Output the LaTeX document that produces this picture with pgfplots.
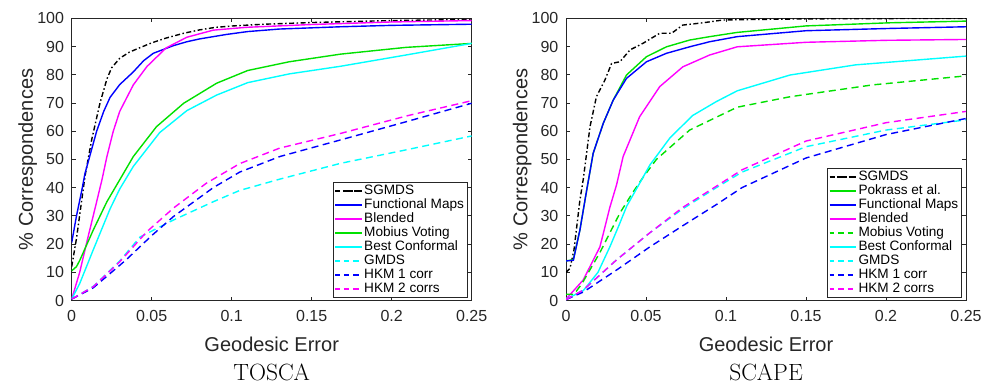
\documentclass[border=0pt]{standalone}
\usepackage{pgfplots}
\pgfplotsset{compat=1.18}
\usepackage{fontspec}
\setsansfont{Liberation Sans}
\renewcommand{\familydefault}{\sfdefault}
\definecolor{axgray}{RGB}{38,38,38}
\definecolor{mgreen}{RGB}{0,225,0}
\definecolor{mblue}{RGB}{0,0,255}
\definecolor{mmag}{RGB}{255,0,255}
\definecolor{mcyan}{RGB}{0,255,255}

\pgfplotsset{
  chart/.style={
    scale only axis, width=400pt, height=282.2pt,
    xmin=0, xmax=0.25, ymin=0, ymax=100,
    xtick={0,0.05,0.1,0.15,0.2,0.25},
    xticklabels={0,0.05,0.1,0.15,0.2,0.25},
    ytick={0,10,...,100},
    tick align=inside, major tick length=4pt,
    axis line style={axgray, line width=0.8pt},
    every tick/.style={axgray, line width=0.8pt},
    tick label style={font=\fontsize{16}{16}\selectfont, text=axgray, inner sep=0pt},
    /pgf/number format/assume math mode=true,
    xticklabel style={anchor=base, yshift=-21.2pt},
    yticklabel style={anchor=east, xshift=-7.5pt},
    every axis x label/.style={at={(axis description cs:0.5,0)}, yshift=-51.2pt, anchor=base, font=\fontsize{20}{20}\selectfont, text=axgray},
    every axis y label/.style={at={(axis description cs:0,0.5)}, xshift=-38.7pt, anchor=base, rotate=90, font=\fontsize{20}{20}\selectfont, text=axgray},
    xlabel={Geodesic Error}, ylabel={\% Correspondences},
    title style={at={(axis description cs:0.5,0)}, anchor=base, yshift=-86.2pt, font=\rmfamily\fontsize{23.5}{24}\selectfont},
    legend style={at={(axis description cs:1,0)}, anchor=south east, xshift=-4.5pt, yshift=2.9pt,
      draw=axgray, fill=white, inner sep=1.5pt,
      font=\fontsize{13.6}{13.6}\selectfont, row sep=0pt,
      nodes={inner xsep=1.5pt, inner ysep=0pt, text height=10.2pt, text depth=3.8pt}},
    legend cell align=left,
    legend image code/.code={\path (0pt,0pt) -- (26.5pt,0pt); \draw[##1, line width=1.8pt] (8.5pt,0pt) -- (26.5pt,0pt);},
  },
  ln/.style={line width=1.4pt},
  dd/.style={line width=1.4pt, dash pattern=on 5pt off 2.5pt on 1.5pt off 2.5pt},
  ds/.style={line width=1.4pt, dash pattern=on 7pt off 4.5pt, legend image post style={dash pattern=on 4.5pt off 5pt}},
}

\begin{document}
\begin{tikzpicture}
\useasboundingbox (-71.7pt,-90.5pt) rectangle (913.3pt,300.5pt);
% ---------------- TOSCA
\begin{axis}[chart, at={(0pt,0pt)}, anchor=south west, title={TOSCA}]
\addplot[dd, black] coordinates {(0,12) (0.003,22) (0.0083,44) (0.0125,57) (0.0177,70) (0.022,78.5) (0.025,82.5) (0.030,85.8) (0.036,88) (0.0427,89.6) (0.05,91.3) (0.059,93) (0.07,94.7) (0.080,95.9) (0.09,96.8) (0.101,97.3) (0.12,97.9) (0.15,98.5) (0.2,99.2) (0.25,99.6)};
\addlegendentry{SGMDS}
\addplot[ln, mblue] coordinates {(0,20.5) (0.003,30) (0.0063,39) (0.0083,45) (0.0156,60) (0.02,67) (0.024,72) (0.03,76.5) (0.0385,81) (0.045,85) (0.051,87.6) (0.0635,90.3) (0.072,91.7) (0.08,92.7) (0.097,94.3) (0.11,95.3) (0.13,96.2) (0.168,97) (0.2,97.5) (0.25,97.9)};
\addlegendentry{Functional Maps}
\addplot[ln, mmag] coordinates {(0,0.5) (0.005,10) (0.01,22) (0.0156,35) (0.019,43) (0.022,51) (0.026,60) (0.030,67) (0.0385,76.4) (0.047,82.9) (0.059,89.5) (0.072,93.3) (0.0885,95.8) (0.109,96.8) (0.15,97.8) (0.2,98.7) (0.25,99.2)};
\addlegendentry{Blended}
\addplot[ln, mgreen] coordinates {(0,10.5) (0.003,12) (0.0052,14.4) (0.008,18) (0.0135,25) (0.022,35) (0.0385,51) (0.053,61.6) (0.07,69.9) (0.0906,77) (0.11,81.5) (0.136,84.6) (0.168,87.3) (0.209,89.7) (0.25,91.1)};
\addlegendentry{Mobius Voting}
\addplot[ln, mcyan] coordinates {(0,0.5) (0.005,6) (0.0135,18) (0.024,32.5) (0.030,39.5) (0.0385,47.5) (0.055,59.5) (0.072,67.3) (0.0906,72.8) (0.11,77.2) (0.136,80.3) (0.168,83) (0.209,87) (0.25,91.1)};
\addlegendentry{Best Conformal}
\addplot[ds, mcyan] coordinates {(0,0.5) (0.0135,5) (0.03,14) (0.0427,22.5) (0.0635,28.5) (0.0885,35) (0.105,39) (0.13,43) (0.168,48.6) (0.21,53.5) (0.25,58.3)};
\addlegendentry{GMDS}
\addplot[ds, mblue] coordinates {(0,0.5) (0.0135,4.5) (0.034,14.4) (0.05,23) (0.0635,29.7) (0.0885,40) (0.105,45.5) (0.13,51) (0.168,56.9) (0.21,63.5) (0.25,69.9)};
\addlegendentry{HKM 1 corr}
\addplot[ds, mmag] coordinates {(0,0.5) (0.0135,4.9) (0.030,13.7) (0.047,24.4) (0.0635,32.7) (0.084,41.5) (0.105,48.5) (0.13,54) (0.168,59.2) (0.21,65.5) (0.25,70.8)};
\addlegendentry{HKM 2 corrs}
\end{axis}
% ---------------- SCAPE
\begin{axis}[chart, at={(494.3pt,0pt)}, anchor=south west, title={SCAPE}]
\addplot[dd, black] coordinates {(0,10) (0.0025,11.4) (0.005,18) (0.0087,35.6) (0.0108,43) (0.015,61.6) (0.019,72.2) (0.0243,78.1) (0.0285,84) (0.0337,84.6) (0.040,88.8) (0.048,91.1) (0.0586,94.7) (0.066,94.7) (0.073,97.6) (0.0856,98.4) (0.098,99.4) (0.12,99.6) (0.15,99.8) (0.2,99.9) (0.25,100)};
\addlegendentry{SGMDS}
\addplot[ln, mgreen] coordinates {(0,14) (0.0046,14.5) (0.0087,25) (0.0129,39) (0.017,52.2) (0.0233,62.8) (0.0295,71) (0.0378,79.9) (0.0503,86.4) (0.0628,89.9) (0.0773,92.3) (0.0898,93.5) (0.107,95) (0.15,97.3) (0.202,98.4) (0.25,99)};
\addlegendentry{Pokrass et al.}
\addplot[ln, mblue] coordinates {(0,14) (0.0046,14.3) (0.0087,25) (0.0129,39) (0.017,52.2) (0.0233,62.8) (0.0295,71) (0.0378,78.7) (0.0503,84.6) (0.0628,87.6) (0.0773,89.9) (0.0898,91.7) (0.107,93.5) (0.15,95.6) (0.202,96.4) (0.25,97)};
\addlegendentry{Functional Maps}
\addplot[ln, mmag] coordinates {(0,0.5) (0.0108,7.3) (0.0212,19) (0.0274,33) (0.0316,41) (0.0357,51) (0.046,65.1) (0.0586,75.8) (0.073,82.8) (0.0898,87) (0.107,89.9) (0.15,91.5) (0.2,92.2) (0.25,92.5)};
\addlegendentry{Blended}
\addplot[ds, mgreen] coordinates {(0,2.2) (0.005,2.2) (0.01,6) (0.0212,17) (0.0337,31) (0.042,38.5) (0.048,43.5) (0.0565,50) (0.0773,60.4) (0.107,68.5) (0.14,72.2) (0.1916,76.4) (0.25,79.6)};
\addlegendentry{Mobius Voting}
\addplot[ln, mcyan] coordinates {(0,0.5) (0.0108,3.5) (0.02,10) (0.0274,19) (0.033,26.5) (0.038,33.5) (0.046,41.5) (0.0524,48) (0.0648,57.5) (0.079,65.5) (0.094,70.5) (0.107,74.3) (0.14,79.9) (0.181,83.5) (0.25,86.6)};
\addlegendentry{Best Conformal}
\addplot[ds, mcyan] coordinates {(0,0.3) (0.0108,3.7) (0.0316,14.4) (0.0524,24) (0.073,32.5) (0.094,40) (0.11,45.5) (0.15,54.5) (0.2,60.4) (0.25,64)};
\addlegendentry{GMDS}
\addplot[ds, mblue] coordinates {(0,0.3) (0.0108,3) (0.0316,10.8) (0.0524,19) (0.073,26.5) (0.094,34) (0.11,40) (0.15,50.5) (0.2,58.8) (0.25,64.5)};
\addlegendentry{HKM 1 corr}
\addplot[ds, mmag] coordinates {(0,0.3) (0.0108,3.7) (0.0316,14.4) (0.0524,24) (0.073,33) (0.094,40.5) (0.11,46.3) (0.15,56.5) (0.2,63) (0.25,67)};
\addlegendentry{HKM 2 corrs}
\end{axis}
\end{tikzpicture}
\end{document}
